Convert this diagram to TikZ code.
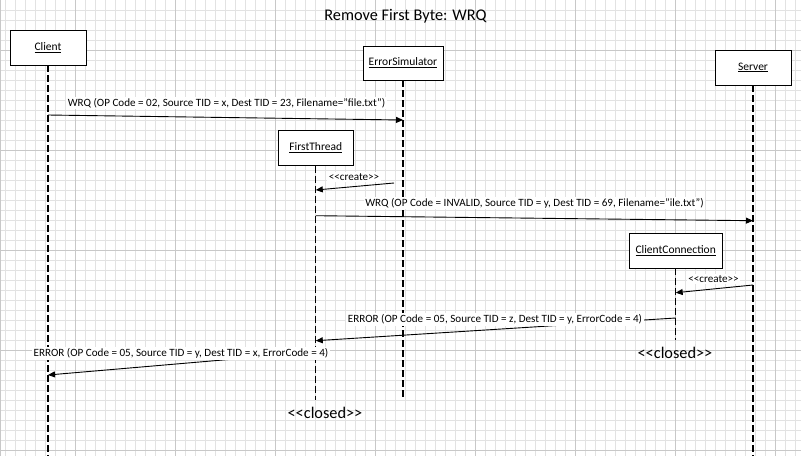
\documentclass[tikz,border=0pt]{standalone}
\usepackage{fontspec}
\setmainfont{Carlito}
\usetikzlibrary{arrows.meta}
\definecolor{gridminor}{RGB}{226,226,226}
\definecolor{gridmajor}{RGB}{200,200,200}
\tikzset{
  objbox/.style={draw=black, line width=0.9pt, fill=white, inner sep=1pt,
    font=\fontsize{11.5}{13}\selectfont},
  lifeline/.style={black, line width=1.2pt, dash pattern=on 7pt off 3pt},
  msg/.style={black, line width=0.9pt, -{Triangle[length=7pt,width=6pt]}},
  msglabel/.style={fill=white, inner sep=1.5pt, font=\fontsize{11.1}{13}\selectfont},
  closedlabel/.style={inner sep=0pt, font=\fontsize{16.3}{18}\selectfont},
  titlelabel/.style={inner sep=0pt, font=\fontsize{16.3}{18}\selectfont},
  minorline/.style={gridminor, line width=0.8pt},
  majorline/.style={gridmajor, line width=1pt},
}
\begin{document}
\begin{tikzpicture}[x=1pt,y=-1pt]
\useasboundingbox (0,0) rectangle (801,456);
\fill[white] (0,0) rectangle (801,456);
% grid
\foreach \x in {5,15,...,795} \draw[minorline] (\x,0) -- (\x,456);
\foreach \y in {10,20,...,450} \draw[minorline] (0,\y) -- (801,\y);
\foreach \x in {75,175,...,775} \draw[majorline] (\x,0) -- (\x,456);
\foreach \y in {50,150,...,450} \draw[majorline] (0,\y) -- (801,\y);
\draw[majorline] (0.5,0) -- (0.5,456);

% title
\node[titlelabel] (title) at (405.5,16) {Remove First Byte: WRQ};

% objects
\node[objbox, minimum width=76pt, minimum height=35pt] (client) at (48,47.5) {\underline{Client}};
\node[objbox, minimum width=80pt, minimum height=34pt] (errsim) at (403,63) {\underline{ErrorSimulator}};
\node[objbox, minimum width=76pt, minimum height=35pt] (server) at (753,67.5) {\underline{Server}};
\node[objbox, minimum width=75pt, minimum height=34.5pt] (first) at (315.8,148) {\underline{FirstThread}};
\node[objbox, minimum width=93pt, minimum height=35pt] (clientconn) at (675.7,250.5) {\underline{ClientConnection}};

% lifeline ends
\coordinate (clientend) at (48,456);
\coordinate (errsimend) at (403,400);
\coordinate (serverend) at (753,456);
\coordinate (firstend) at (315.8,400);
\coordinate (clientconnend) at (675.7,340);

\draw[lifeline] (client.south) -- (clientend);
\draw[lifeline] (errsim.south) -- (errsimend);
\draw[lifeline] (server.south) -- (serverend);
\draw[lifeline] (first.south) -- (firstend);
\draw[lifeline] (clientconn.south) -- (clientconnend);

% message end points
\coordinate (m1s) at (48,115);
\coordinate (m1e) at (403,120);
\coordinate (m2s) at (394,183);
\coordinate (m2e) at (315.8,190);
\coordinate (m3s) at (315.8,215.7);
\coordinate (m3e) at (753,220.7);
\coordinate (m4s) at (753,285);
\coordinate (m4e) at (675.7,292.7);
\coordinate (m5s) at (675.7,318);
\coordinate (m5e) at (315.8,340.7);
\coordinate (m6s) at (315.8,352);
\coordinate (m6e) at (48,375);

\draw[msg] (m1s) -- (m1e);
\draw[msg] (m2s) -- (m2e);
\draw[msg] (m3s) -- (m3e);
\draw[msg] (m4s) -- (m4e);
\draw[msg] (m5s) -- (m5e);
\draw[msg] (m6s) -- (m6e);

% labels
\node[msglabel] (l1) at (226.5,103) {WRQ (OP Code = 02, Source TID = x, Dest TID = 23, Filename="file.txt")};
\node[msglabel] (l2) at (354,177) {<{}<create>{}>};
\node[msglabel] (l3) at (534.5,203) {WRQ (OP Code = INVALID, Source TID = y, Dest TID = 69, Filename="ile.txt")};
\node[msglabel] (l4) at (713.5,279) {<{}<create>{}>};
\node[msglabel] (l5) at (495,319.5) {ERROR (OP Code = 05, Source TID = z, Dest TID = y, ErrorCode = 4)};
\node[msglabel] (l6) at (181,353.5) {ERROR (OP Code = 05, Source TID = y, Dest TID = x, ErrorCode = 4)};

\node[closedlabel] (closed1) at (675,353) {<{}<closed>{}>};
\node[closedlabel] (closed2) at (325,413) {<{}<closed>{}>};
\end{tikzpicture}
\end{document}
